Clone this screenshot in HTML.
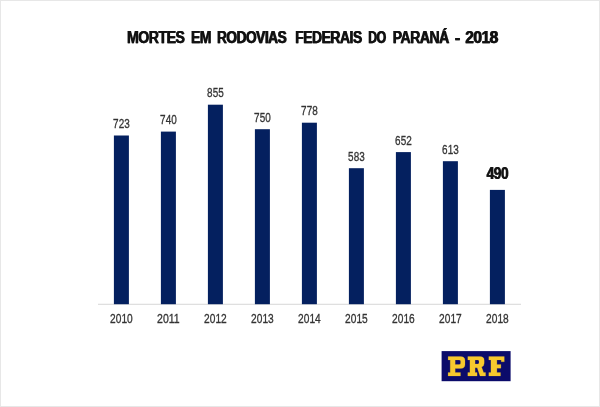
<!DOCTYPE html>
<html><head><meta charset="utf-8"><title>Mortes em rodovias federais do Paraná - 2018</title>
<style>
html,body{margin:0;padding:0;background:#fff;}
body{width:600px;height:407px;overflow:hidden;font-family:"Liberation Sans",sans-serif;}
svg{display:block;}
text{font-family:"Liberation Sans",sans-serif;}
.tx{filter:grayscale(1);}
.t{font-weight:bold;font-size:17.2px;fill:#121212;stroke:#121212;stroke-width:0.25px;letter-spacing:-0.6px;}
.v{font-size:13.2px;fill:#333333;stroke:#333333;stroke-width:0.32px;letter-spacing:0px;}
.b{font-weight:bold;font-size:16.0px;fill:#141414;stroke:#141414;stroke-width:0.2px;letter-spacing:-0.5px;}
</style></head><body>
<svg width="600" height="407" viewBox="0 0 600 407">
<rect x="0" y="0" width="600" height="407" fill="#ffffff"/>
<rect x="0.5" y="0.5" width="599" height="406" fill="none" stroke="#e7e7e7" stroke-width="1"/>
<rect x="98" y="303.8" width="423" height="0.9" fill="#d2d2d2"/>
<rect x="113.9" y="135.5" width="15.0" height="168.7" fill="#04205f"/>
<rect x="160.9" y="131.6" width="15.0" height="172.6" fill="#04205f"/>
<rect x="207.9" y="104.7" width="15.0" height="199.5" fill="#04205f"/>
<rect x="254.9" y="129.2" width="15.0" height="175.0" fill="#04205f"/>
<rect x="301.9" y="122.7" width="15.0" height="181.5" fill="#04205f"/>
<rect x="348.9" y="168.2" width="15.0" height="136.0" fill="#04205f"/>
<rect x="395.9" y="152.1" width="15.0" height="152.1" fill="#04205f"/>
<rect x="442.9" y="161.2" width="15.0" height="143.0" fill="#04205f"/>
<rect x="489.9" y="189.9" width="15.0" height="114.3" fill="#04205f"/>
<g class="tx">
<text class="t" x="126.70" y="43.3" textLength="57.50" lengthAdjust="spacingAndGlyphs">MORTES</text>
<text class="t" x="127.30" y="43.3" textLength="57.50" lengthAdjust="spacingAndGlyphs">MORTES</text>
<text class="t" x="190.68" y="43.3" textLength="20.02" lengthAdjust="spacingAndGlyphs">EM</text>
<text class="t" x="191.28" y="43.3" textLength="20.02" lengthAdjust="spacingAndGlyphs">EM</text>
<text class="t" x="216.70" y="43.3" textLength="69.25" lengthAdjust="spacingAndGlyphs">RODOVIAS</text>
<text class="t" x="217.30" y="43.3" textLength="69.25" lengthAdjust="spacingAndGlyphs">RODOVIAS</text>
<text class="t" x="294.95" y="43.3" textLength="66.50" lengthAdjust="spacingAndGlyphs">FEDERAIS</text>
<text class="t" x="295.55" y="43.3" textLength="66.50" lengthAdjust="spacingAndGlyphs">FEDERAIS</text>
<text class="t" x="367.94" y="43.3" textLength="17.51" lengthAdjust="spacingAndGlyphs">DO</text>
<text class="t" x="368.54" y="43.3" textLength="17.51" lengthAdjust="spacingAndGlyphs">DO</text>
<text class="t" x="392.45" y="43.3" textLength="56.00" lengthAdjust="spacingAndGlyphs">PARANÁ</text>
<text class="t" x="393.05" y="43.3" textLength="56.00" lengthAdjust="spacingAndGlyphs">PARANÁ</text>
<text class="t" x="454.45" y="43.3" textLength="5.00" lengthAdjust="spacingAndGlyphs">-</text>
<text class="t" x="455.05" y="43.3" textLength="5.00" lengthAdjust="spacingAndGlyphs">-</text>
<text class="t" x="464.95" y="43.3" textLength="32.51" lengthAdjust="spacingAndGlyphs">2018</text>
<text class="t" x="465.55" y="43.3" textLength="32.51" lengthAdjust="spacingAndGlyphs">2018</text>
<text class="v" x="113.1" y="128.0" textLength="16.6" lengthAdjust="spacingAndGlyphs">723</text>
<text class="v" x="110.1" y="322.7" textLength="22.6" lengthAdjust="spacingAndGlyphs">2010</text>
<text class="v" x="160.1" y="124.1" textLength="16.6" lengthAdjust="spacingAndGlyphs">740</text>
<text class="v" x="157.1" y="322.7" textLength="22.6" lengthAdjust="spacingAndGlyphs">2011</text>
<text class="v" x="207.1" y="97.2" textLength="16.6" lengthAdjust="spacingAndGlyphs">855</text>
<text class="v" x="204.1" y="322.7" textLength="22.6" lengthAdjust="spacingAndGlyphs">2012</text>
<text class="v" x="254.1" y="121.7" textLength="16.6" lengthAdjust="spacingAndGlyphs">750</text>
<text class="v" x="251.1" y="322.7" textLength="22.6" lengthAdjust="spacingAndGlyphs">2013</text>
<text class="v" x="301.1" y="115.2" textLength="16.6" lengthAdjust="spacingAndGlyphs">778</text>
<text class="v" x="298.1" y="322.7" textLength="22.6" lengthAdjust="spacingAndGlyphs">2014</text>
<text class="v" x="348.1" y="160.7" textLength="16.6" lengthAdjust="spacingAndGlyphs">583</text>
<text class="v" x="345.1" y="322.7" textLength="22.6" lengthAdjust="spacingAndGlyphs">2015</text>
<text class="v" x="395.1" y="144.6" textLength="16.6" lengthAdjust="spacingAndGlyphs">652</text>
<text class="v" x="392.1" y="322.7" textLength="22.6" lengthAdjust="spacingAndGlyphs">2016</text>
<text class="v" x="442.1" y="153.7" textLength="16.6" lengthAdjust="spacingAndGlyphs">613</text>
<text class="v" x="439.1" y="322.7" textLength="22.6" lengthAdjust="spacingAndGlyphs">2017</text>
<text class="b" x="486.3" y="178.9" textLength="21.6" lengthAdjust="spacingAndGlyphs">490</text>
<text class="b" x="486.9" y="178.9" textLength="21.6" lengthAdjust="spacingAndGlyphs">490</text>
<text class="v" x="486.1" y="322.7" textLength="22.6" lengthAdjust="spacingAndGlyphs">2018</text>
</g>
<g>
<rect x="441.6" y="351.1" width="69" height="30.1" fill="#0b0b6a"/>
<g fill="#f7c92e" fill-rule="evenodd" stroke="#f7c92e" stroke-width="0.2">
<path d="M448.1 356.6H460.5Q465 356.6 465 360.6V364.5Q465 368.6 460.5 368.6H455.2V372.6H460.5V376H448.1V372.6H450.2V359.9H448.1ZM455.2 359.9V364.6H459Q460.6 364.6 460.6 363.2V361.3Q460.6 359.9 459 359.9Z"/>
<path d="M467.8 356.6H480Q484.2 356.6 484.2 360.2V363.3Q484.2 366 481.6 366.9L483.6 372.6H485.6V376H480L477.2 367.8H475.1V372.6H477.1V376H467.8V372.6H469.9V359.9H467.8ZM475.1 359.9V364H477.6Q479 364 479 362.8V361.1Q479 359.9 477.6 359.9Z"/>
<path d="M488.8 356.6H504.3V361.8H501.2V359.9H496.9V364.4H500.9V368.2H496.9V372.6H500.5V376H488.8V372.6H490.9V359.9H488.8Z"/>
</g></g>
</svg></body></html>
